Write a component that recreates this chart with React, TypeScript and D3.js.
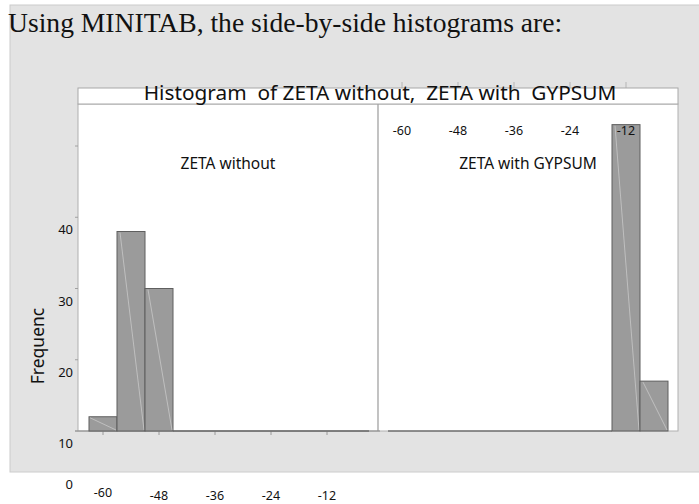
import * as d3 from 'd3';
import React from 'react';

// bin edges (both panels share the same 10 bins)
const binEdges = [-63, -57, -51, -45, -39, -33, -27, -21, -15, -9, -3];
const zetaWithout = [2, 28, 20, 0, 0, 0, 0, 0, 0, 0];
const zetaGypsum = [0, 0, 0, 0, 0, 0, 0, 0, 43, 7];
const xTicks = [-60, -48, -36, -24, -12];
const yTicks = [0, 10, 20, 30, 40];

const W = 699;
const H = 504;
const SANS = '"Noto Sans", "Open Sans", sans-serif';

const box = { left: 78, right: 678, stripTop: 88, top: 104, bottom: 431, mid: 378 };

const App: React.FC = () => {
  const xLeft = d3.scaleLinear().domain([-60, -12]).range([103, 327]);
  const xRight = d3.scaleLinear().domain([-60, -12]).range([402, 626]);
  const y = d3.scaleLinear().domain([0, 40]).range([box.bottom, 146]);

  const bars = (vals: number[], x: d3.ScaleLinear<number, number>, key: string) =>
    vals.map((v, i) => {
      const x0 = x(binEdges[i]);
      const x1 = x(binEdges[i + 1]);
      const top = y(v);
      if (v === 0) {
        return (
          <line key={key + i} x1={x0} x2={x1} y1={box.bottom} y2={box.bottom}
            stroke="#5f5f5f" strokeWidth={1.2} />
        );
      }
      return (
        <g key={key + i}>
          <rect x={x0} y={top} width={x1 - x0} height={box.bottom - top}
            fill="#9b9b9b" stroke="#5f5f5f" strokeWidth={1} />
          <line x1={x0 + (v > 5 ? 3 : 1)} y1={top + 1} x2={x1 - 1} y2={box.bottom - 1}
            stroke="#cfcfcf" strokeWidth={0.7} />
        </g>
      );
    });

  return (
    <svg width={W} height={H} style={{ position: 'absolute', left: 0, top: 0, background: '#fff' }}>
      <rect x={10} y={5} width={W} height={467} fill="#e3e3e3" stroke="#cccccc" strokeWidth={1} />
      <text x={8} y={32} fontFamily='"Liberation Serif", "Times New Roman", serif' fontSize={27.6} fill="#111">
        Using MINITAB, the side-by-side histograms are:
      </text>

      {/* top tick marks above the strip */}
      {xTicks.map((t) => (
        <line key={'tt' + t} x1={xRight(t)} x2={xRight(t)} y1={82} y2={box.stripTop}
          stroke="#b5b5b5" strokeWidth={1} />
      ))}

      {/* panel area */}
      <rect x={box.left} y={box.top} width={box.right - box.left} height={box.bottom - box.top}
        fill="#fff" stroke="#b0b0b0" strokeWidth={1} />
      <line x1={box.mid} x2={box.mid} y1={box.top} y2={box.bottom} stroke="#9a9a9a" strokeWidth={1.2} />
      <rect x={box.left} y={box.stripTop} width={box.right - box.left} height={box.top - box.stripTop}
        fill="#fff" stroke="#a8a8a8" strokeWidth={1} />
      <text x={380} y={100} textAnchor="middle" fontFamily={SANS} fontSize={20.8} fill="#111"
        style={{ whiteSpace: 'pre' }}>
        {'Histogram  of ZETA without,  ZETA with  GYPSUM'}
      </text>

      {/* bottom axis line + ticks, left panel */}
      <line x1={75} x2={380} y1={box.bottom} y2={box.bottom} stroke="#8a8a8a" strokeWidth={1} />
      {xTicks.map((t) => (
        <line key={'bt' + t} x1={xLeft(t)} x2={xLeft(t)} y1={box.bottom} y2={box.bottom + 4}
          stroke="#9a9a9a" strokeWidth={1} />
      ))}

      {/* y ticks */}
      {yTicks.map((t) => (
        <line key={'yt' + t} x1={75} x2={box.left} y1={y(t)} y2={y(t)} stroke="#a0a0a0" strokeWidth={1} />
      ))}

      {bars(zetaWithout, xLeft, 'l')}
      {bars(zetaGypsum, xRight, 'r')}

      <text x={228} y={169} textAnchor="middle" fontFamily={SANS} fontSize={15.5} fill="#111">ZETA without</text>
      <text x={528} y={169} textAnchor="middle" fontFamily={SANS} fontSize={15.5} fill="#111">ZETA with GYPSUM</text>

      {/* right panel tick labels drawn at the top */}
      {xTicks.map((t) => (
        <text key={'rl' + t} x={xRight(t)} y={134.5} textAnchor="middle" fontFamily={SANS}
          fontSize={12.5} fill="#111">{t}</text>
      ))}

      {/* left panel tick labels, below the grey area */}
      {xTicks.map((t, i) => (
        <text key={'ll' + t} x={xLeft(t)} y={i === 0 ? 497 : 499.5} textAnchor="middle" fontFamily={SANS}
          fontSize={12.5} fill="#111">{t}</text>
      ))}

      {/* y tick labels (offset one step down, as in the source) */}
      {yTicks.map((t) => (
        <text key={'yl' + t} x={73} y={t === 0 ? 489 : y(t - 10) + 17} textAnchor="end"
          fontFamily={SANS} fontSize={13} fill="#111">{t}</text>
      ))}

      <text transform="translate(44,346) rotate(-90)" textAnchor="middle" fontFamily={SANS}
        fontSize={17.5} fill="#111">Frequenc</text>
    </svg>
  );
};

export default App;
